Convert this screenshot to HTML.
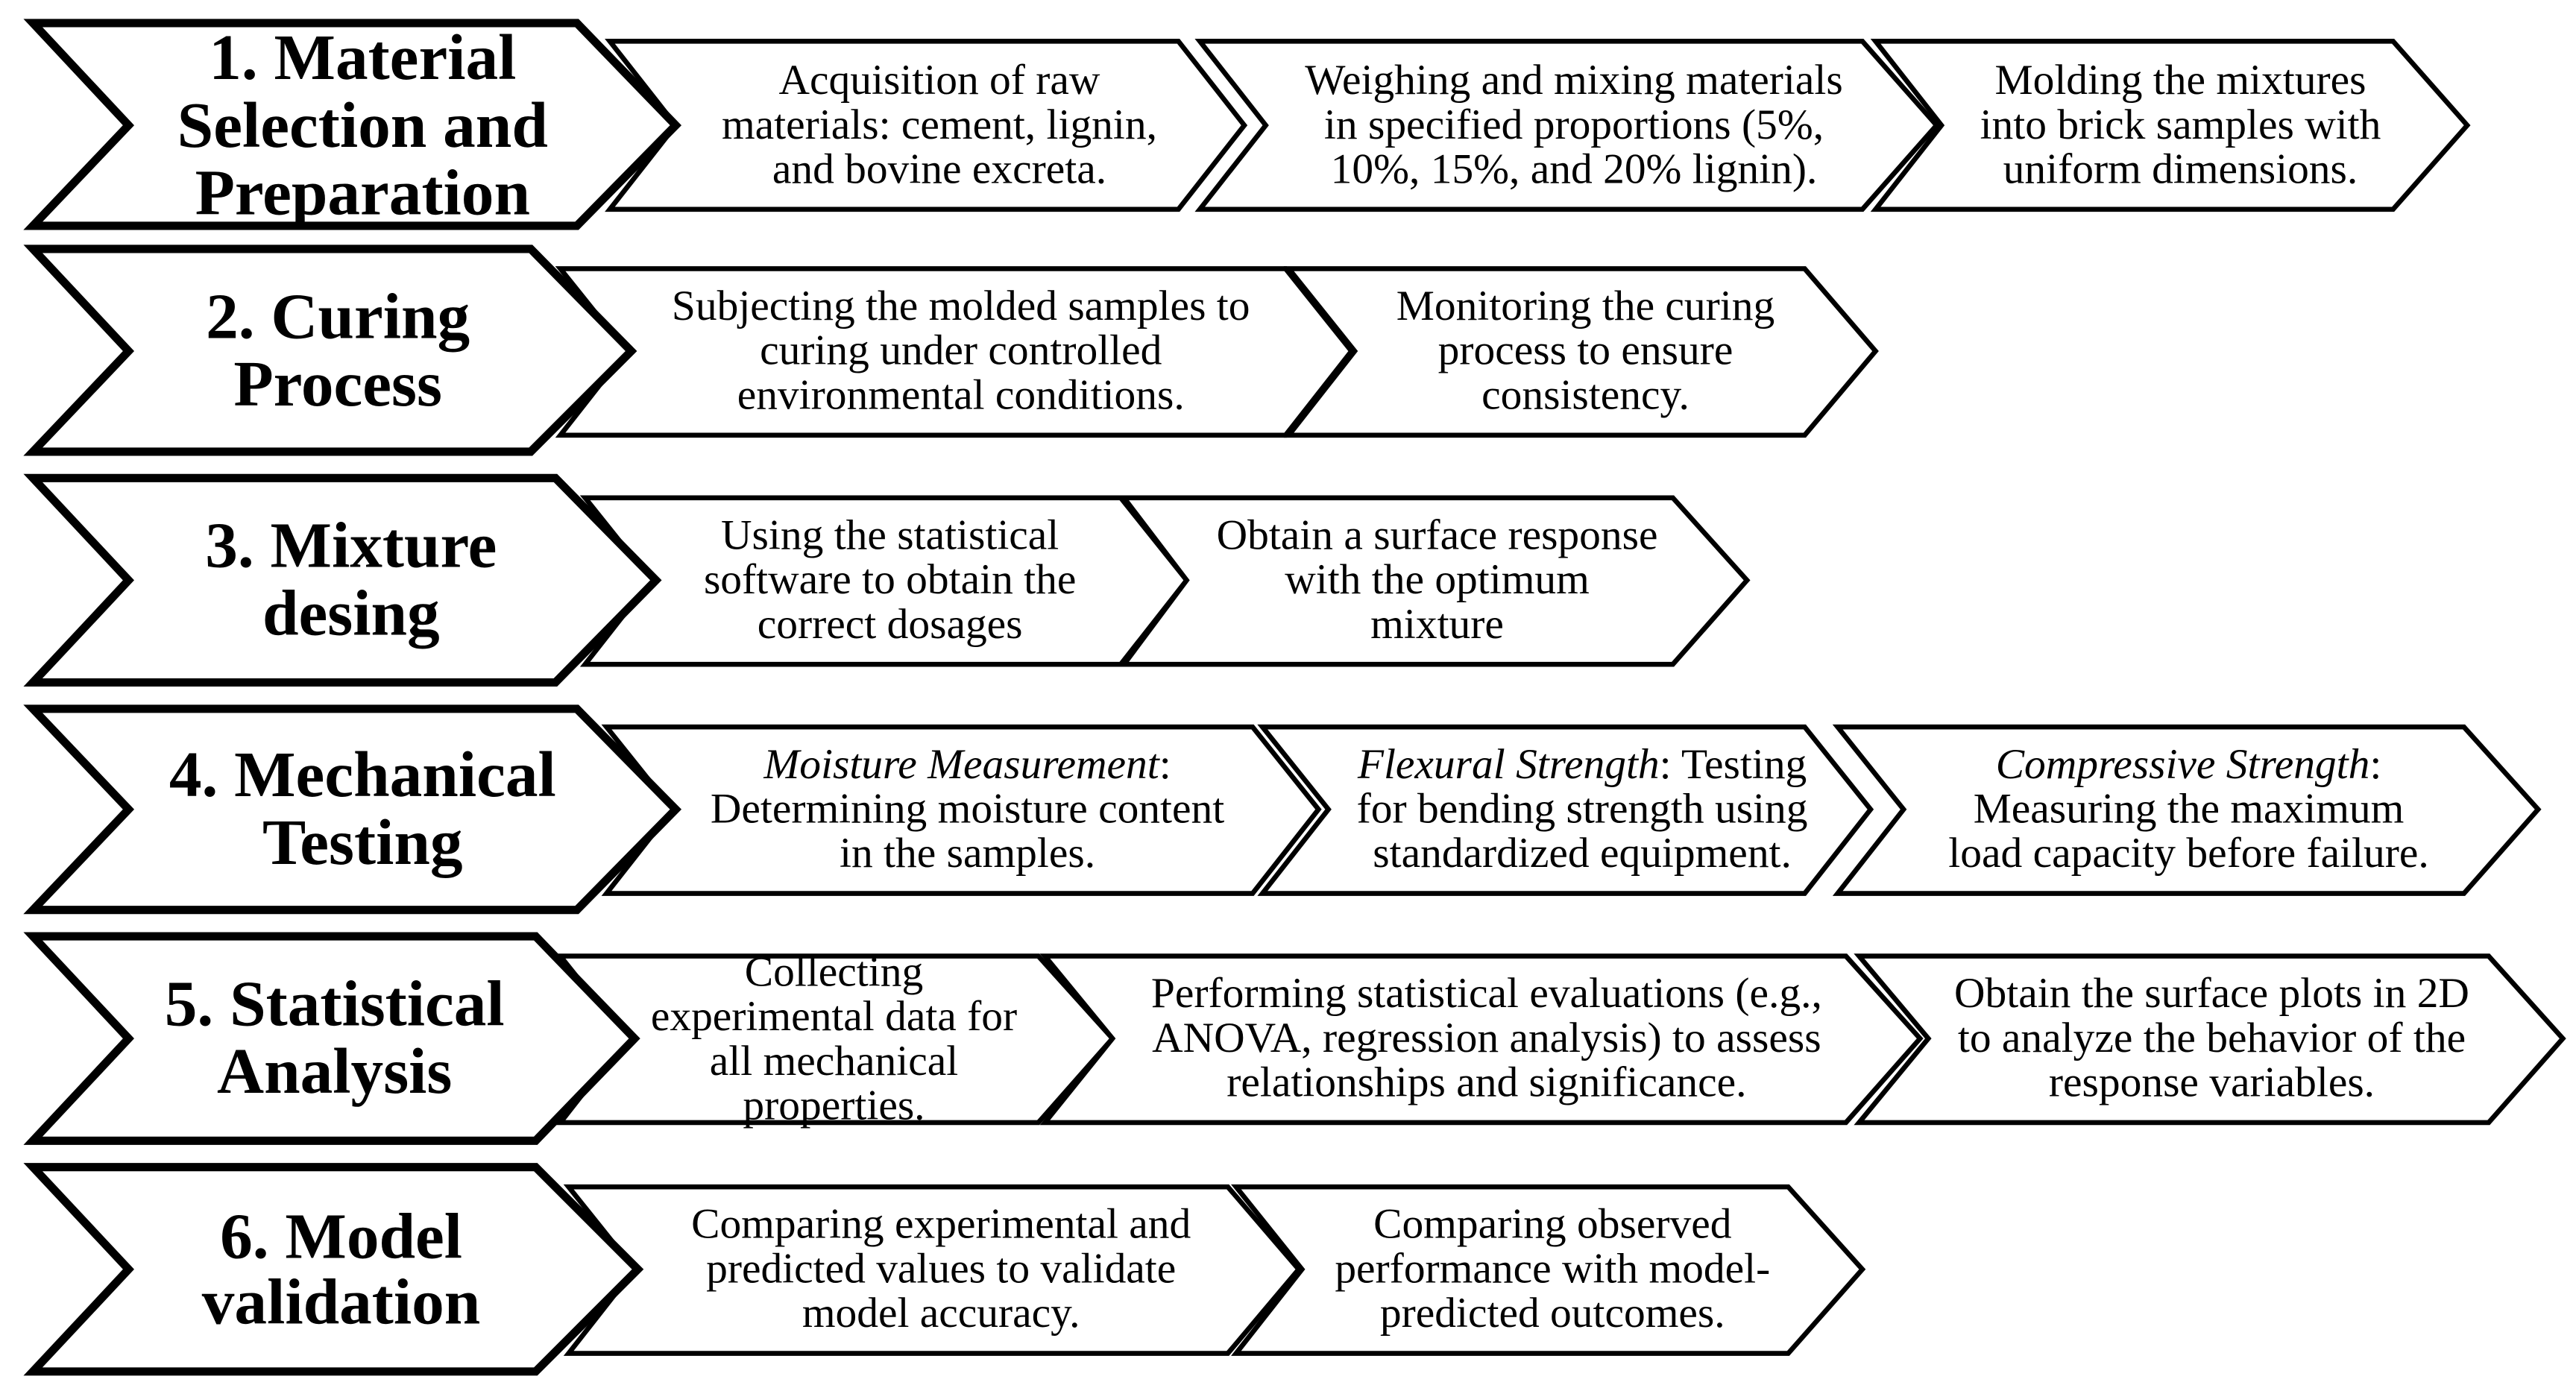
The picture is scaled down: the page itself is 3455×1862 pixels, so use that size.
<!DOCTYPE html>
<html><head><meta charset="utf-8"><style>
html,body{margin:0;padding:0;background:#fff;}
svg{display:block;}
.h{font-family:"Liberation Serif",serif;font-weight:bold;font-size:39.5px;text-anchor:middle;}
.t{font-family:"Liberation Serif",serif;font-size:26px;text-anchor:middle;}
.hd{fill:#fff;stroke:#000;stroke-width:5;stroke-linejoin:miter;}
.bx{fill:#fff;stroke:#000;stroke-width:3;stroke-linejoin:miter;}
</style></head><body>
<svg width="3455" height="1862" viewBox="0 0 1563 842" preserveAspectRatio="none" xmlns="http://www.w3.org/2000/svg">
<!-- Row 1 -->
<polygon class="bx" points="370,25 715,25 755,76 715,127 370,127 410,76"/>
<polygon class="bx" points="728,25 1130,25 1175,76 1130,127 728,127 768,76"/>
<polygon class="bx" points="1138,25 1452,25 1497,76 1452,127 1138,127 1178,76"/>
<polygon class="hd" points="20,14 350,14 410,76 350,137 20,137 78,76"/>
<text class="h" x="220" y="48">1. Material</text>
<text class="h" x="220" y="89">Selection and</text>
<text class="h" x="220" y="130">Preparation</text>
<text class="t" x="570" y="57">Acquisition of raw</text>
<text class="t" x="570" y="84">materials: cement, lignin,</text>
<text class="t" x="570" y="111">and bovine excreta.</text>
<text class="t" x="955" y="57">Weighing and mixing materials</text>
<text class="t" x="955" y="84">in specified proportions (5%,</text>
<text class="t" x="955" y="111">10%, 15%, and 20% lignin).</text>
<text class="t" x="1323" y="57">Molding the mixtures</text>
<text class="t" x="1323" y="84">into brick samples with</text>
<text class="t" x="1323" y="111">uniform dimensions.</text>
<!-- Row 2 -->
<polygon class="bx" points="340,163 780,163 820,213 780,264 340,264 380,213"/>
<polygon class="bx" points="782,163 1095,163 1138,213 1095,264 782,264 822,213"/>
<polygon class="hd" points="20,151 322,151 383,213 322,274 20,274 78,213"/>
<text class="h" x="205" y="205">2. Curing</text>
<text class="h" x="205" y="246">Process</text>
<text class="t" x="583" y="194">Subjecting the molded samples to</text>
<text class="t" x="583" y="221">curing under controlled</text>
<text class="t" x="583" y="248">environmental conditions.</text>
<text class="t" x="962" y="194">Monitoring the curing</text>
<text class="t" x="962" y="221">process to ensure</text>
<text class="t" x="962" y="248">consistency.</text>
<!-- Row 3 -->
<polygon class="bx" points="355,302 680,302 720,352 680,403 355,403 395,352"/>
<polygon class="bx" points="682,302 1015,302 1060,352 1015,403 682,403 720,352"/>
<polygon class="hd" points="20,290 337,290 398,352 337,414 20,414 78,352"/>
<text class="h" x="213" y="344">3. Mixture</text>
<text class="h" x="213" y="385">desing</text>
<text class="t" x="540" y="333">Using the statistical</text>
<text class="t" x="540" y="360">software to obtain the</text>
<text class="t" x="540" y="387">correct dosages</text>
<text class="t" x="872" y="333">Obtain a surface response</text>
<text class="t" x="872" y="360">with the optimum</text>
<text class="t" x="872" y="387">mixture</text>
<!-- Row 4 -->
<polygon class="bx" points="368,441 760,441 800,491 760,542 368,542 408,491"/>
<polygon class="bx" points="766,441 1095,441 1135,491 1095,542 766,542 806,491"/>
<polygon class="bx" points="1115,441 1495,441 1540,491 1495,542 1115,542 1155,491"/>
<polygon class="hd" points="20,430 350,430 410,491 350,552 20,552 78,491"/>
<text class="h" x="220" y="483">4. Mechanical</text>
<text class="h" x="220" y="524">Testing</text>
<text class="t" x="587" y="472"><tspan font-style="italic">Moisture Measurement</tspan>:</text>
<text class="t" x="587" y="499">Determining moisture content</text>
<text class="t" x="587" y="526">in the samples.</text>
<text class="t" x="960" y="472"><tspan font-style="italic">Flexural Strength</tspan>: Testing</text>
<text class="t" x="960" y="499">for bending strength using</text>
<text class="t" x="960" y="526">standardized equipment.</text>
<text class="t" x="1328" y="472"><tspan font-style="italic">Compressive Strength</tspan>:</text>
<text class="t" x="1328" y="499">Measuring the maximum</text>
<text class="t" x="1328" y="526">load capacity before failure.</text>
<!-- Row 5 -->
<polygon class="bx" points="340,580 630,580 675,630 630,681 340,681 380,630"/>
<polygon class="bx" points="634,580 1120,580 1165,630 1120,681 634,681 675,630"/>
<polygon class="bx" points="1128,580 1510,580 1555,630 1510,681 1128,681 1170,630"/>
<polygon class="hd" points="20,568 325,568 385,630 325,692 20,692 78,630"/>
<text class="h" x="203" y="622">5. Statistical</text>
<text class="h" x="203" y="663">Analysis</text>
<text class="t" x="506" y="598">Collecting</text>
<text class="t" x="506" y="625">experimental data for</text>
<text class="t" x="506" y="652">all mechanical</text>
<text class="t" x="506" y="679">properties.</text>
<text class="t" x="902" y="611">Performing statistical evaluations (e.g.,</text>
<text class="t" x="902" y="638">ANOVA, regression analysis) to assess</text>
<text class="t" x="902" y="665">relationships and significance.</text>
<text class="t" x="1342" y="611">Obtain the surface plots in 2D</text>
<text class="t" x="1342" y="638">to analyze the behavior of the</text>
<text class="t" x="1342" y="665">response variables.</text>
<!-- Row 6 -->
<polygon class="bx" points="345,720 745,720 788,770 745,821 345,821 385,770"/>
<polygon class="bx" points="750,720 1085,720 1130,770 1085,821 750,821 790,770"/>
<polygon class="hd" points="20,708 325,708 387,770 325,832 20,832 78,770"/>
<text class="h" x="207" y="763">6. Model</text>
<text class="h" x="207" y="803">validation</text>
<text class="t" x="571" y="751">Comparing experimental and</text>
<text class="t" x="571" y="778">predicted values to validate</text>
<text class="t" x="571" y="805">model accuracy.</text>
<text class="t" x="942" y="751">Comparing observed</text>
<text class="t" x="942" y="778">performance with model-</text>
<text class="t" x="942" y="805">predicted outcomes.</text>
</svg>
</body></html>
